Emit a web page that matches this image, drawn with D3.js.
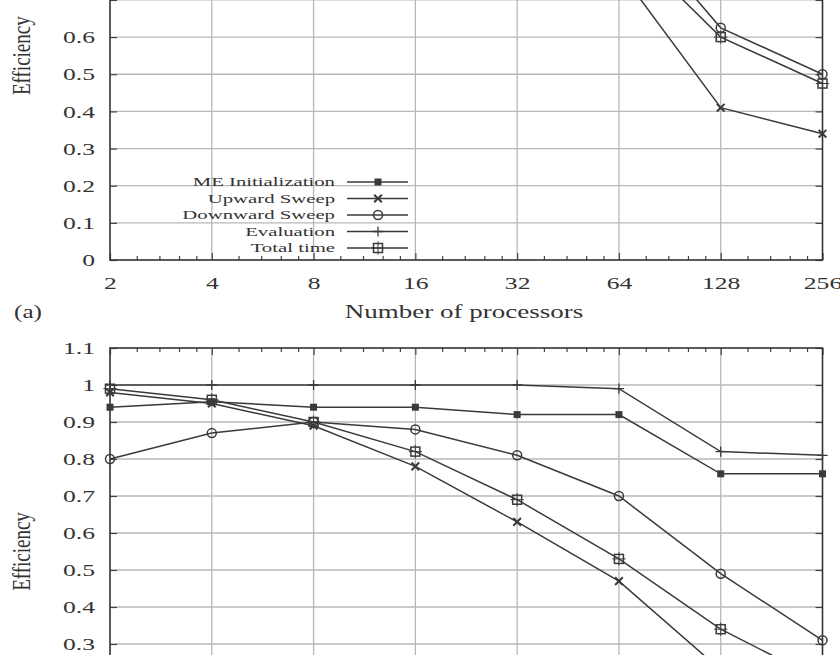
<!DOCTYPE html>
<html>
<head>
<meta charset="utf-8">
<script src="https://cdn.jsdelivr.net/npm/d3@7"></script>
<style>
  body { margin: 0; background: #fff; }
  text { fill: #333; font-family: "Liberation Serif", "DejaVu Serif", serif; }
</style>
</head>
<body>
<div id="chart"></div>
<script>
// number of processors (x, log base 2)
var procs = [2, 4, 8, 16, 32, 64, 128, 256];
var seriesNames = ["ME Initialization", "Upward Sweep", "Downward Sweep", "Evaluation", "Total time"];
var yTicks = [0, 0.1, 0.2, 0.3, 0.4, 0.5, 0.6, 0.7, 0.8, 0.9, 1, 1.1];

// panel (a) - only the lower part is visible
var meInitA     = [0.97, 0.97, 0.96, 0.96, 0.95, 0.94, 0.90, 0.88];
var upwardA     = [0.99, 0.98, 0.97, 0.94, 0.89, 0.78, 0.41, 0.34];
var downwardA   = [0.95, 0.97, 0.98, 0.98, 0.97, 0.945, 0.625, 0.50];
var evaluationA = [1.00, 1.00, 1.00, 1.00, 1.00, 1.00, 0.97, 0.93];
var totalA      = [0.99, 0.98, 0.97, 0.95, 0.92, 0.87, 0.60, 0.475];

// panel (b)
var meInitB     = [0.94, 0.955, 0.94, 0.94, 0.92, 0.92, 0.76, 0.76];
var upwardB     = [0.98, 0.95, 0.89, 0.78, 0.63, 0.47, 0.23, 0.13];
var downwardB   = [0.80, 0.87, 0.90, 0.88, 0.81, 0.70, 0.49, 0.31];
var evaluationB = [1.00, 1.00, 1.00, 1.00, 1.00, 0.99, 0.82, 0.81];
var totalB      = [0.99, 0.96, 0.90, 0.82, 0.69, 0.53, 0.34, 0.20];

var svgWidth = 840;
var svgHeight = 655;
var lineColor = "#3a3a3a";
var gridColor = "#b8b8b8";

var svg = d3.select("#chart")
  .append("svg")
  .attr("width", svgWidth)
  .attr("height", svgHeight);

var xScale = d3.scaleLog().base(2)
  .domain([2, 256])
  .range([110, 822.5]);

// minor ticks on the log axis
var minorTicks = [];
procs.slice(0, -1).forEach(function(p) {
  [1.2, 1.4, 1.6, 1.8].forEach(function(k) { minorTicks.push(p * k); });
});

// only label what falls inside the window
function visible(y) { return y > 8 && y < svgHeight - 8; }

// gnuplot-ish point types
function drawMarker(g, type, x, y) {
  var m = g.append("g").attr("transform", `translate(${x},${y})`);
  if (type == 0) {
    m.append("rect").attr("x", -3.5).attr("y", -3.5).attr("width", 7).attr("height", 7)
      .attr("fill", lineColor);
  } else if (type == 1) {
    m.append("path").attr("d", d3.symbol(d3.symbolX, 40)())
      .attr("fill", "none").attr("stroke", lineColor).attr("stroke-width", 2);
    m.append("rect").attr("x", -1.5).attr("y", -1.5).attr("width", 3).attr("height", 3)
      .attr("fill", lineColor);
  } else if (type == 2) {
    m.append("circle").attr("r", 4.5)
      .attr("fill", "none").attr("stroke", lineColor).attr("stroke-width", 1.5);
  } else if (type == 3) {
    m.append("path").attr("d", d3.symbol(d3.symbolPlus, 36)())
      .attr("fill", "none").attr("stroke", lineColor).attr("stroke-width", 1.3);
  } else {
    m.append("rect").attr("x", -4.5).attr("y", -4.5).attr("width", 9).attr("height", 9)
      .attr("fill", "none").attr("stroke", lineColor).attr("stroke-width", 1.5);
    m.append("path").attr("d", d3.symbol(d3.symbolPlus, 60)())
      .attr("fill", "none").attr("stroke", lineColor).attr("stroke-width", 1);
  }
}

function drawPanel(yRange, data, showLegend) {
  var yScale = d3.scaleLinear().domain([0, 1.1]).range(yRange);
  var g = svg.append("g");
  var x0 = xScale.range()[0], x1 = xScale.range()[1];
  var yb = yScale(0), yt = yScale(1.1);

  // grid
  g.append("g").selectAll("line.hg")
    .data(yTicks.slice(1, -1)).enter().append("line")
    .attr("x1", x0).attr("x2", x1)
    .attr("y1", d => yScale(d)).attr("y2", d => yScale(d))
    .attr("stroke", gridColor).attr("stroke-width", 1.3);
  g.append("g").selectAll("line.vg")
    .data(procs.slice(1, -1)).enter().append("line")
    .attr("x1", d => xScale(d)).attr("x2", d => xScale(d))
    .attr("y1", yb).attr("y2", yt)
    .attr("stroke", gridColor).attr("stroke-width", 1.3);

  // axes (ticks point inward)
  var leftAxis = d3.axisLeft(yScale).tickValues(yTicks).tickSize(-7)
    .tickFormat(d => visible(yScale(d)) ? String(+d.toFixed(1)) : "");
  var la = g.append("g").attr("transform", `translate(${x0},0)`).call(leftAxis);
  la.selectAll("text")
    .attr("x", 0).attr("dy", "0.35em")
    .attr("transform", "translate(-15,0) scale(1.6,1)")
    .style("font-size", "16px").style("font-family", "Liberation Serif");

  var rightAxis = d3.axisRight(yScale).tickValues(yTicks).tickSize(-7).tickFormat("");
  g.append("g").attr("transform", `translate(${x1},0)`).call(rightAxis);

  var bottomAxis = d3.axisBottom(xScale).tickValues(procs).tickSize(-7)
    .tickFormat(visible(yb + 29) ? d3.format("d") : "");
  var ba = g.append("g").attr("transform", `translate(0,${yb})`).call(bottomAxis);
  ba.selectAll("text")
    .attr("y", 0).attr("dy", 0)
    .attr("transform", "translate(0,29) scale(1.6,1)")
    .style("font-size", "16px").style("font-family", "Liberation Serif");

  g.append("g").attr("transform", `translate(0,${yb})`)
    .call(d3.axisBottom(xScale).tickValues(minorTicks).tickSize(-4).tickFormat(""));
  g.append("g").attr("transform", `translate(0,${yt})`)
    .call(d3.axisTop(xScale).tickValues(procs).tickSize(-7).tickFormat(""));
  g.append("g").attr("transform", `translate(0,${yt})`)
    .call(d3.axisTop(xScale).tickValues(minorTicks).tickSize(-4).tickFormat(""));

  g.selectAll(".domain").remove();
  g.selectAll(".tick text").filter(function() { return this.textContent === ""; }).remove();
  g.selectAll(".tick line").attr("stroke", "#444").attr("stroke-width", 1.2);

  // frame
  g.append("rect")
    .attr("x", x0).attr("y", yt).attr("width", x1 - x0).attr("height", yb - yt)
    .attr("fill", "none").attr("stroke", "#333").attr("stroke-width", 1.6);

  // y label
  g.append("text")
    .attr("transform", `translate(30,${(yb + yt) / 2}) scale(1.3,1) rotate(-90)`)
    .attr("text-anchor", "middle")
    .style("font-size", "19px")
    .text("Efficiency");

  // series
  var line = d3.line()
    .x((d, i) => xScale(procs[i]))
    .y(d => yScale(d));

  data.forEach(function(vals, s) {
    g.append("path")
      .datum(vals)
      .attr("fill", "none")
      .attr("stroke", lineColor)
      .attr("stroke-width", 1.5)
      .attr("d", line);
    vals.forEach(function(v, i) {
      drawMarker(g, s, xScale(procs[i]), yScale(v));
    });
  });

  if (showLegend) {
    var lg = g.append("g");
    seriesNames.forEach(function(name, s) {
      var ly = 182 + s * 16.5;
      lg.append("text")
        .attr("transform", `translate(335,${ly}) scale(1.73,1)`)
        .attr("text-anchor", "end")
        .attr("dy", "0.35em")
        .style("font-size", "12px")
        .text(name);
      lg.append("line")
        .attr("x1", 347).attr("x2", 408).attr("y1", ly).attr("y2", ly)
        .attr("stroke", lineColor).attr("stroke-width", 1.5);
      drawMarker(lg, s, 378, ly);
    });
  }
  return g;
}

// (a) top panel, mostly above the visible window
drawPanel([260, 260 - 1.1 * 371.5],
  [meInitA, upwardA, downwardA, evaluationA, totalA], true);

svg.append("text")
  .attr("transform", "translate(464,318) scale(1.5,1)")
  .attr("text-anchor", "middle")
  .style("font-size", "18px")
  .text("Number of processors");

svg.append("text")
  .attr("transform", "translate(14,318) scale(1.4,1)")
  .style("font-size", "18px")
  .text("(a)");

// (b) bottom panel, cut at the bottom
drawPanel([755, 348],
  [meInitB, upwardB, downwardB, evaluationB, totalB], false);
</script>
</body>
</html>
